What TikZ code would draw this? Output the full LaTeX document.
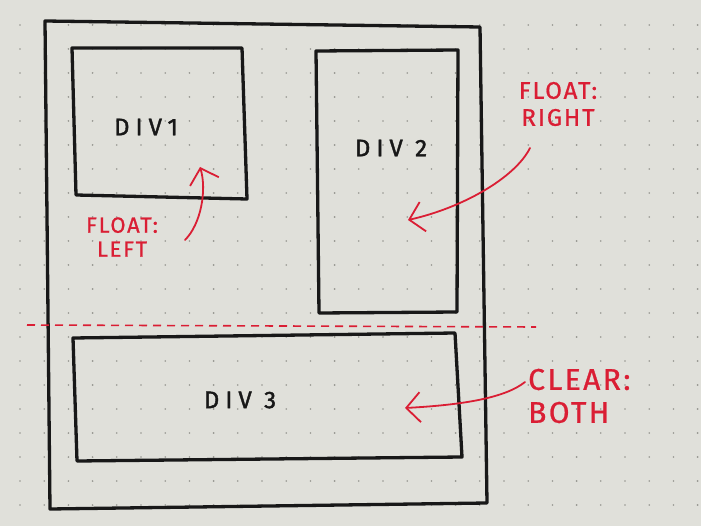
\documentclass[tikz,border=0pt]{standalone}
\usepackage{fontspec}
\setsansfont{Fira Sans}
\newfontfamily\divfont[LetterSpace=25,FakeBold=1.6]{Fira Sans}
\newfontfamily\notefont[LetterSpace=8,FakeBold=0.8]{Fira Sans}
\usepackage{tikz}
\usetikzlibrary{arrows.meta}
\definecolor{paper}{RGB}{224,224,218}
\definecolor{ink}{RGB}{24,24,24}
\definecolor{redpen}{RGB}{218,30,52}
\definecolor{griddot}{RGB}{150,150,144}
\tikzset{
%%%%%%%%%%  Node styles
emptynode/.style={circle,minimum size=0pt, inner sep=0pt, outer sep=0},
divlabel/.style={text=ink, inner sep=0pt, font=\divfont\fontsize{24}{26}\selectfont},
note/.style 2 args={text=redpen, inner sep=0pt, font=\notefont\fontsize{#1}{#2}\selectfont},
%%%%%%%%%%  Pen styles
marker/.style={line width=3.3pt, draw=ink, line join=round, line cap=round},
redpen_dash/.style={line width=1.6pt, draw=redpen, dash pattern=on 8pt off 6pt},
redpen_arrow/.style={line width=1.8pt, draw=redpen, line cap=round,
                     -{Straight Barb[length=14pt,width=30pt,line width=1.8pt]}},
%%%%%%%%%%  Fill styles
sheet/.style={fill=paper},
griddot/.style={fill=griddot}
}

\begin{document}
\begin{tikzpicture}[x=1pt,y=-1pt]
%% the sheet of dotted paper
\fill[sheet] (0,0) rectangle (701,526);
\useasboundingbox (0,0) rectangle (701,526);
\foreach \i in {0,...,28}
  \foreach \j in {0,...,21}
    \fill[griddot] ({20+24.2*\i},{25+24*\j}) circle (0.9pt);
%% page box and the three divs
\draw[marker] (45,21) -- (480,27) -- (487,503) -- (50,509) -- cycle;
\draw[marker] (72,48) -- (242,48) -- (247,199) -- (76,195) -- cycle;
\draw[marker] (316,51) -- (458,50) -- (457,312) -- (319,313) -- cycle;
\draw[marker] (73,338) -- (455,333) -- (462,457) -- (77,461) -- cycle;
\node[divlabel] (div1) at (146,127) {DIV1};
\node[divlabel] (div2) at (391,148) {DIV 2};
\node[divlabel] (div3) at (240,400) {DIV 3};
%% the clearing line
\node[emptynode] (cl) at (27,325) {};
\node[emptynode] (cr) at (536,327) {};
\draw[redpen_dash] (cl) -- (cr);
%% notes
\node[note={24}{27}, align=center] (right) at (558,104) {FLOAT:\\RIGHT};
\node[note={22}{24}, align=center] (left) at (122,237) {FLOAT:\\LEFT};
\node[note={30}{33}, align=left, anchor=west] (both) at (528,396) {CLEAR:\\BOTH};
%% arrow ends
\node[emptynode] (r0) at (530,148) {};
\node[emptynode] (r1) at (408,220) {};
\node[emptynode] (l0) at (185,240) {};
\node[emptynode] (l1) at (200,167) {};
\node[emptynode] (b0) at (525,382) {};
\node[emptynode] (b1) at (405,408) {};
\draw[redpen_arrow] (r0) .. controls (515,178) and (462,208) .. (r1);
\draw[redpen_arrow] (l0) .. controls (201,224) and (207,190) .. (l1);
\draw[redpen_arrow] (b0) .. controls (505,398) and (462,405) .. (b1);
\end{tikzpicture}
\end{document}
